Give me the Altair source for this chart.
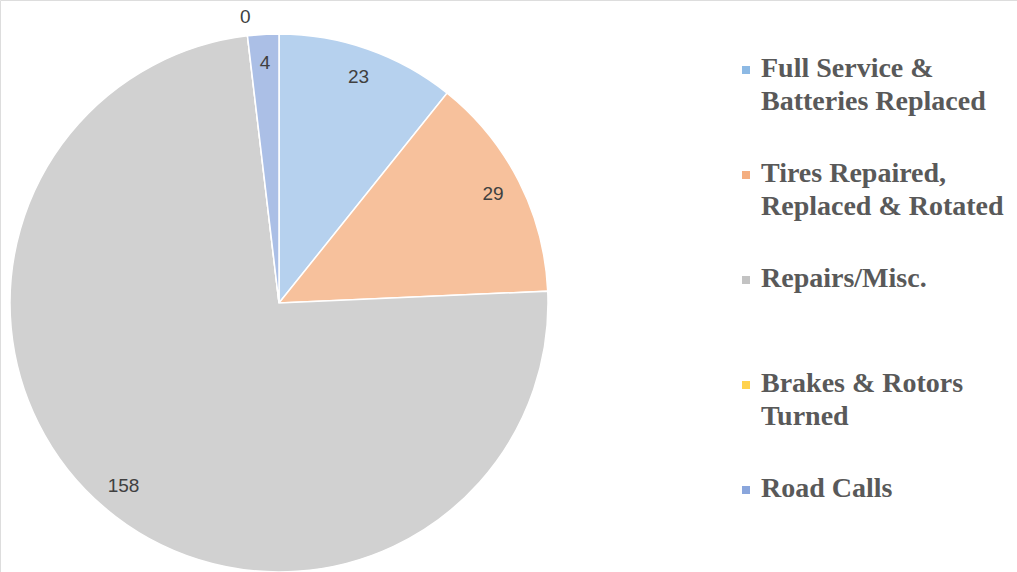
import altair as alt
import pandas as pd

categories = ["Full Service & Batteries Replaced", "Tires Repaired, Replaced & Rotated",
              "Repairs/Misc.", "Brakes & Rotors Turned", "Road Calls"]
legend_labels = ["Full Service &\nBatteries Replaced", "Tires Repaired,\nReplaced & Rotated",
                 "Repairs/Misc.", "Brakes & Rotors\nTurned", "Road Calls"]
values = [23, 29, 158, 0, 4]
slice_colors = ["#B6D1EE", "#F7C19C", "#D1D1D1", "#FFE08A", "#ABBFE6"]
legend_colors = ["#8DB9E4", "#F4AE80", "#C3C3C3", "#FFD24D", "#8AA6DC"]

df = pd.DataFrame({
    "cat": categories,
    "label": legend_labels,
    "value": values,
    "idx": list(range(len(values))),
})

cx, cy, R = 279, 303, 269

base = alt.Chart(df)

pie = base.mark_arc(stroke="white", strokeWidth=1.5).encode(
    theta=alt.Theta("value:Q", stack=True),
    order=alt.Order("idx:Q"),
    color=alt.Color("cat:N", scale=alt.Scale(domain=categories, range=slice_colors), legend=None),
    x=alt.value(cx), y=alt.value(cy), radius=alt.value(R),
)

labels_in = base.mark_text(font="Liberation Sans", fontSize=19, color="#404040", radius=240).encode(
    theta=alt.Theta("value:Q", stack=True),
    order=alt.Order("idx:Q"),
    text=alt.condition("datum.value != 0", alt.Text("value:Q"), alt.value("")),
    x=alt.value(cx), y=alt.value(cy),
)

labels_out = base.mark_text(font="Liberation Sans", fontSize=19, color="#404040", radius=288).encode(
    theta=alt.Theta("value:Q", stack=True),
    order=alt.Order("idx:Q"),
    text=alt.condition("datum.value == 0", alt.Text("value:Q"), alt.value("")),
    x=alt.value(cx), y=alt.value(cy),
)

leg_scale = alt.Scale(type="point", domain=categories, range=[70, 490], padding=0)

leg_sym = base.mark_square(size=64, opacity=1).encode(
    x=alt.value(746),
    y=alt.Y("cat:N", scale=leg_scale, axis=None),
    fill=alt.Fill("cat:N", scale=alt.Scale(domain=categories, range=legend_colors), legend=None),
)

leg_txt = base.mark_text(font="Liberation Serif", fontWeight="bold", fontSize=28,
                         color="#595959", align="left", baseline="top",
                         lineBreak="\n", lineHeight=33, dy=-15).encode(
    x=alt.value(761),
    y=alt.Y("cat:N", scale=leg_scale, axis=None),
    text="label:N",
)

chart = alt.layer(pie, labels_in, labels_out, leg_sym, leg_txt).resolve_scale(
    color="independent", fill="independent"
).properties(
    width=1017, height=572, padding=0, autosize=alt.AutoSizeParams(type="none")
).configure_view(stroke=None).configure(background="white")

chart.save("out.html", embed_options={"renderer": "svg", "actions": False})
